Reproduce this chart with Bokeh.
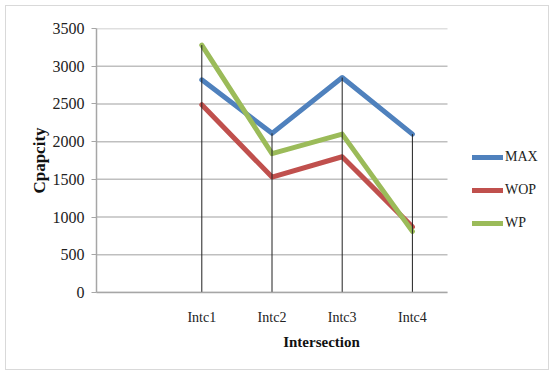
import numpy as np
from bokeh.plotting import figure
from bokeh.models import Legend, LegendItem, FixedTicker, Range1d
from bokeh.embed import file_html
from bokeh.resources import INLINE

# ---- data ----
categories = ["", "Intc1", "Intc2", "Intc3", "Intc4"]
labels = ["Intc1", "Intc2", "Intc3", "Intc4"]
max_vals = [2820, 2110, 2850, 2100]
wop_vals = [2490, 1530, 1800, 870]
wp_vals = [3280, 1840, 2100, 810]
y_ticks = [0, 500, 1000, 1500, 2000, 2500, 3000, 3500]
series_names = ["MAX", "WOP", "WP"]
series_colors = ["#4F81BD", "#C0504D", "#9BBB59"]

# category positions (centre of each category slot)
xs = [categories.index(c) + 0.5 for c in labels]
series = [max_vals, wop_vals, wp_vals]
drop_top = list(np.max(np.array(series), axis=0))
n_cat = len(categories)

FONT = "Liberation Serif"

# layout (pixels): plot area for the categories is 351 px wide, the frame
# is extended to the right so that the legend can sit inside it
W, H = 544, 365
B_LEFT, B_RIGHT, B_TOP, B_BOTTOM = 90, 4, 22, 79
FRAME_W = W - B_LEFT - B_RIGHT
DATA_W = 351
x_end = n_cat * FRAME_W / DATA_W

p = figure(width=W, height=H, output_backend="svg", toolbar_location=None,
           x_range=Range1d(0, x_end), y_range=Range1d(0, 3500),
           min_border_left=B_LEFT, min_border_right=B_RIGHT,
           min_border_top=B_TOP, min_border_bottom=B_BOTTOM)
p.styles = {"border": "1px solid #d9d9d9", "margin-left": "5px", "margin-top": "5px"}
p.outline_line_color = None
p.background_fill_color = "white"
p.border_fill_color = "white"

# grid (horizontal lines across the category area only)
p.xgrid.grid_line_color = None
p.ygrid.grid_line_color = None
p.segment(x0=[0] * len(y_ticks), y0=y_ticks, x1=[n_cat] * len(y_ticks), y1=y_ticks,
          line_color="#bfbfbf", line_width=1.5)

# y axis
ya = p.yaxis[0]
ya.ticker = FixedTicker(ticks=y_ticks)
ya.axis_line_color = "#a6a6a6"
ya.axis_line_width = 1.5
ya.major_tick_line_color = "#a6a6a6"
ya.major_tick_out = 5
ya.major_tick_in = 0
ya.minor_tick_line_color = None
ya.major_label_standoff = 7
ya.major_label_text_font = FONT
ya.major_label_text_font_size = "16px"
ya.major_label_text_color = "#222222"
ya.axis_label = "Cpapcity"
ya.axis_label_text_font = FONT
ya.axis_label_text_font_size = "17px"
ya.axis_label_text_font_style = "bold"
ya.axis_label_text_color = "#111111"
ya.axis_label_standoff = 1

# x axis
xa = p.xaxis[0]
xa.bounds = (0, n_cat)
xa.ticker = FixedTicker(ticks=xs)
xa.major_label_overrides = {x: l for x, l in zip(xs, labels)}
xa.axis_line_color = "#a6a6a6"
xa.axis_line_width = 1.5
xa.major_tick_line_color = None
xa.minor_tick_line_color = None
xa.major_label_standoff = 11
xa.major_label_text_font = FONT
xa.major_label_text_font_size = "14px"
xa.major_label_text_color = "#222222"
xa.axis_label = "Intersection"
xa.axis_label_text_font = FONT
xa.axis_label_text_font_size = "15px"
xa.axis_label_text_font_style = "bold"
xa.axis_label_text_color = "#111111"
xa.axis_label_standoff = 6

# series lines
renderers = []
for name, vals, col in zip(series_names, series, series_colors):
    r = p.line(xs, vals, line_color=col, line_width=5, line_cap="round",
               line_join="round")
    renderers.append(r)

# drop lines
p.segment(x0=xs, y0=[0] * len(xs), x1=xs, y1=drop_top,
          line_color="#202020", line_width=1)

legend = Legend(items=[LegendItem(label=n, renderers=[r])
                       for n, r in zip(series_names, renderers)],
                location=(376, 59.3))
legend.padding = 0
legend.margin = 0
legend.border_line_color = None
legend.background_fill_alpha = 0
legend.glyph_width = 31
legend.glyph_height = 20
legend.label_height = 20
legend.spacing = 13
legend.label_standoff = 2
legend.label_text_font = FONT
legend.label_text_font_size = "14px"
legend.label_text_color = "#222222"
p.add_layout(legend, "center")

open("out.html", "w").write(file_html(p, INLINE))
